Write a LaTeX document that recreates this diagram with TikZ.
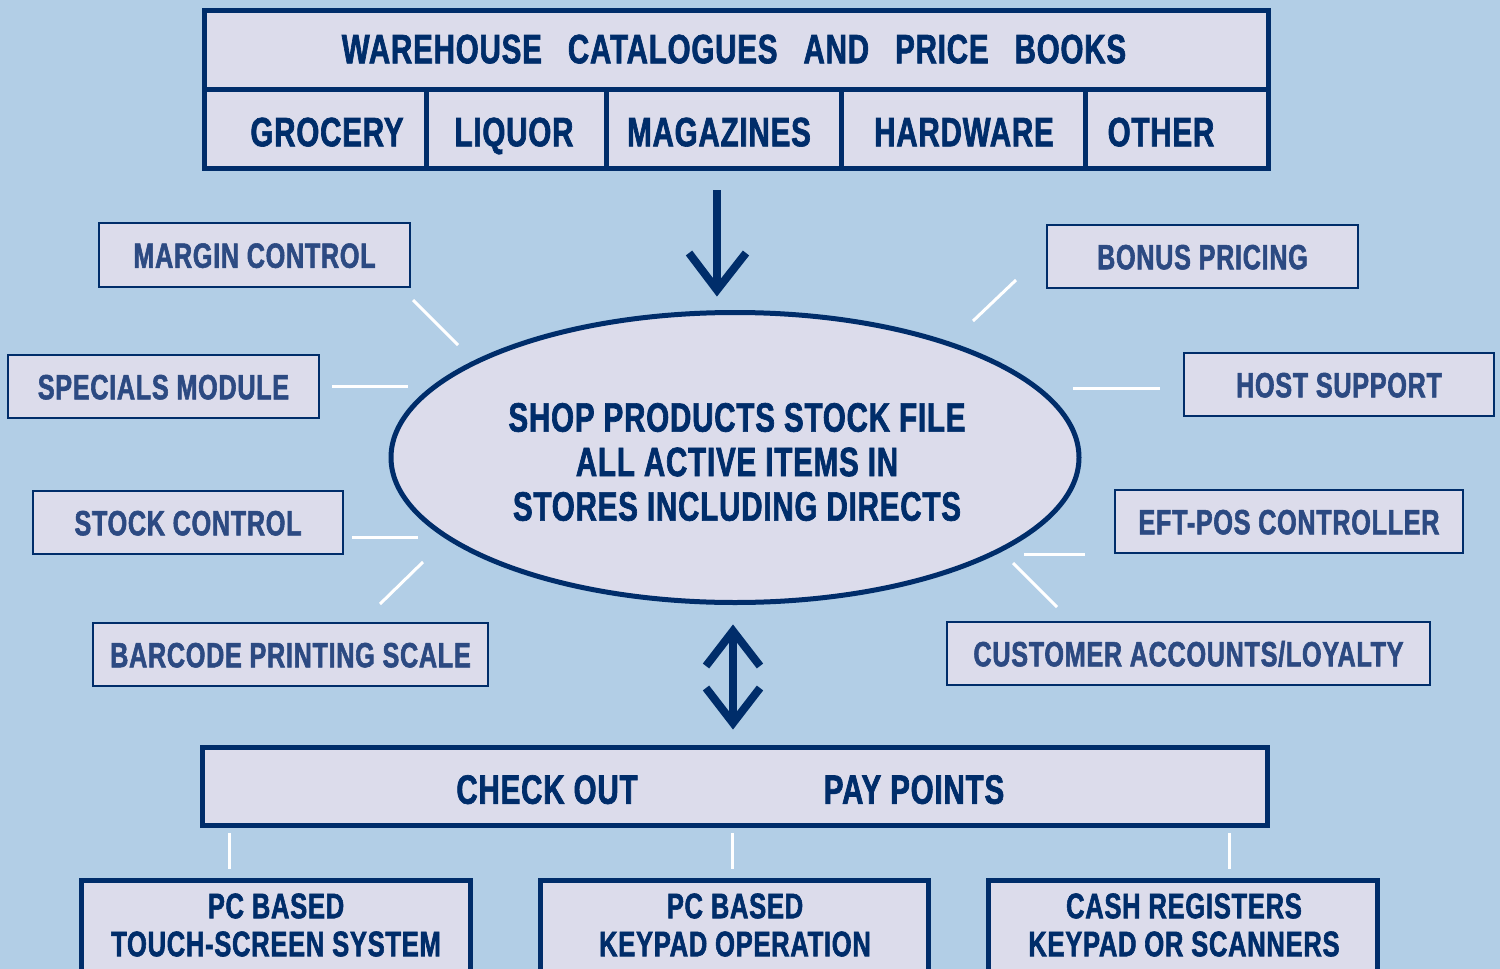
\documentclass[tikz,border=0pt]{standalone}
\usepackage{fontspec}
\newfontfamily\cond{Liberation Sans}[FakeStretch=0.72,FakeBold=1.6,LetterSpace=2]
\definecolor{bg}{HTML}{B2CEE6}
\definecolor{boxfill}{HTML}{DCDCEB}
\definecolor{navy}{HTML}{002D6A}
\definecolor{softnavy}{HTML}{2C4A82}
\tikzset{
  heavybox/.style={draw=navy, line width=5pt, fill=boxfill, inner sep=0pt, rectangle},
  sidebox/.style={draw=navy, line width=2.5pt, fill=boxfill, inner sep=0pt, rectangle, text=softnavy, text height=25.5pt, text depth=0pt, font=\cond\bfseries\fontsize{35}{40}\selectfont},
  bigtxt/.style={text=navy, font=\cond\bfseries\fontsize{41}{44}\selectfont, inner sep=0pt},
  captxt/.style={bigtxt, text height=29.5pt, text depth=0pt},
  midtxt/.style={text=navy, font=\cond\bfseries\fontsize{35.5}{38}\selectfont, inner sep=0pt, align=center},
  wline/.style={draw=white, line width=3pt},
  arrowline/.style={draw=navy, line width=8pt, miter limit=10},
}
\begin{document}
\begin{tikzpicture}[x=1pt,y=-1pt]
\fill[bg] (0,0) rectangle (1500,969);
\useasboundingbox (0,0) rectangle (1500,969);

% top box
\node[heavybox, minimum width=1064pt, minimum height=79pt] (title) at (736,50) {};
\node[heavybox, minimum width=222pt, minimum height=79pt] (cGro) at (315,129) {};
\node[heavybox, minimum width=180pt, minimum height=79pt] (cLiq) at (516,129) {};
\node[heavybox, minimum width=235pt, minimum height=79pt] (cMag) at (723.5,129) {};
\node[heavybox, minimum width=244pt, minimum height=79pt] (cHar) at (963,129) {};
\node[heavybox, minimum width=183pt, minimum height=79pt] (cOth) at (1176.5,129) {};
\node[captxt] (tTitle) at (734,48.5) {WAREHOUSE\hspace{26pt}CATALOGUES\hspace{26pt}AND\hspace{26pt}PRICE\hspace{26pt}BOOKS};
\node[captxt] (tGro) at (327,131.5) {GROCERY};
\node[captxt] (tLiq) at (514,131.5) {LIQUOR};
\node[captxt] (tMag) at (719,131.5) {MAGAZINES};
\node[captxt] (tHar) at (964,131.5) {HARDWARE};
\node[captxt] (tOth) at (1161,131.5) {OTHER};

% down arrow
\draw[arrowline] (717,190) -- (717,290);
\draw[arrowline] (689,253) -- (717,290) -- (746,253);

% central ellipse
\draw[navy, line width=5pt, fill=boxfill] (735,457.5) ellipse [x radius=344pt, y radius=145pt];
\node[bigtxt, align=center] (stock) at (737,462) {SHOP PRODUCTS STOCK FILE\\[0.5pt]ALL ACTIVE ITEMS IN\\[0.5pt]STORES INCLUDING DIRECTS};

% side boxes
\node[sidebox, minimum width=311pt, minimum height=64pt] (margin) at (254.5,255) {MARGIN CONTROL};
\node[sidebox, minimum width=311pt, minimum height=63pt] (specials) at (163.5,386.5) {SPECIALS MODULE};
\node[sidebox, minimum width=310pt, minimum height=63pt] (stockc) at (188,522.5) {STOCK CONTROL};
\node[sidebox, minimum width=395pt, minimum height=63pt] (barcode) at (290.5,654.5) {BARCODE PRINTING SCALE};
\node[sidebox, minimum width=311pt, minimum height=63pt] (bonus) at (1202.5,256.5) {BONUS PRICING};
\node[sidebox, minimum width=310pt, minimum height=63pt] (host) at (1339,384.5) {HOST SUPPORT};
\node[sidebox, minimum width=348pt, minimum height=63pt] (eft) at (1289,521.5) {EFT-POS CONTROLLER};
\node[sidebox, minimum width=483pt, minimum height=63pt] (cust) at (1188.5,653.5) {CUSTOMER ACCOUNTS/LOYALTY};

% white spokes
\draw[wline] (413,300) -- (458,345);
\draw[wline] (332,386) -- (408,386);
\draw[wline] (352,537) -- (418,537);
\draw[wline] (380,604) -- (423,562);
\draw[wline] (973,321) -- (1016,280);
\draw[wline] (1073,388) -- (1160,388);
\draw[wline] (1024,554) -- (1085,554);
\draw[wline] (1013,563) -- (1057,607);

% double arrow
\draw[arrowline] (733,632) -- (733,722);
\draw[arrowline] (706,666) -- (733,631) -- (760,666);
\draw[arrowline] (706,688) -- (733,723) -- (760,688);

% checkout box
\node[heavybox, minimum width=1065pt, minimum height=78pt] (checkout) at (734.5,786.5) {};
\node[captxt] (tCheck) at (547,789) {CHECK OUT};
\node[captxt] (tPay) at (914,789) {PAY POINTS};

% bottom boxes
\node[heavybox, minimum width=389pt, minimum height=120pt] (pc1) at (275.5,940) {};
\node[heavybox, minimum width=388pt, minimum height=120pt] (pc2) at (734,940) {};
\node[heavybox, minimum width=389pt, minimum height=120pt] (cash) at (1182.5,940) {};
\node[midtxt] (t1) at (276,925) {PC BASED\\[0pt]TOUCH-SCREEN SYSTEM};
\node[midtxt] (t2) at (735,925) {PC BASED\\[0pt]KEYPAD OPERATION};
\node[midtxt] (t3) at (1184,925) {CASH REGISTERS\\[0pt]KEYPAD OR SCANNERS};

% connectors
\draw[wline] (229,833) -- (229,869);
\draw[wline] (732,833) -- (732,869);
\draw[wline] (1229,833) -- (1229,869);
\end{tikzpicture}
\end{document}
